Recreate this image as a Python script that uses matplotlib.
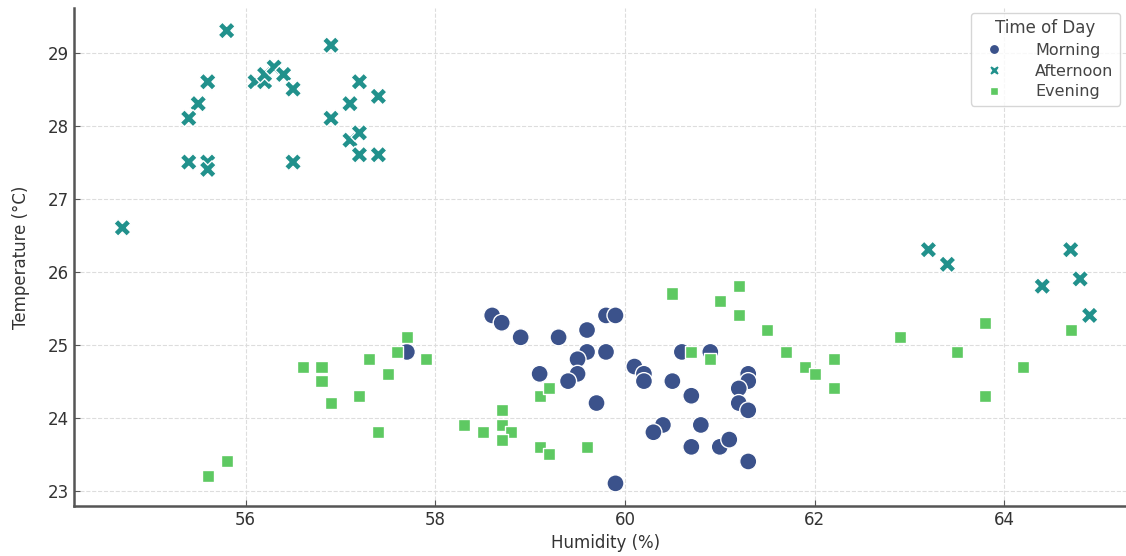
import numpy as np
import pandas as pd
import matplotlib
matplotlib.use('Agg')
import matplotlib.pyplot as plt
import seaborn as sns

# readings per time of day
morning_hum = [58.6, 58.7, 58.9, 59.3, 59.6, 59.8, 59.9, 59.6, 59.8, 59.5, 59.5, 59.4,
               59.1, 59.7, 60.1, 60.2, 60.2, 60.5, 60.7, 60.6, 60.9, 61.3, 61.3, 61.2,
               61.2, 61.3, 60.8, 60.4, 60.3, 60.7, 61.0, 61.1, 61.3, 59.9, 57.7]
morning_temp = [25.4, 25.3, 25.1, 25.1, 25.2, 25.4, 25.4, 24.9, 24.9, 24.8, 24.6, 24.5,
                24.6, 24.2, 24.7, 24.6, 24.5, 24.5, 24.3, 24.9, 24.9, 24.6, 24.5, 24.4,
                24.2, 24.1, 23.9, 23.9, 23.8, 23.6, 23.6, 23.7, 23.4, 23.1, 24.9]

afternoon_hum = [55.8, 56.9, 55.6, 55.5, 55.4, 55.4, 55.6, 55.6, 54.7, 56.1, 56.2, 56.2,
                 56.3, 56.4, 56.5, 56.5, 56.9, 57.1, 57.2, 57.4, 57.1, 57.2, 57.2, 57.4,
                 63.2, 63.4, 64.7, 64.4, 64.8, 64.9]
afternoon_temp = [29.3, 29.1, 28.6, 28.3, 28.1, 27.5, 27.5, 27.4, 26.6, 28.6, 28.6, 28.7,
                  28.8, 28.7, 28.5, 27.5, 28.1, 28.3, 28.6, 28.4, 27.8, 27.9, 27.6, 27.6,
                  26.3, 26.1, 26.3, 25.8, 25.9, 25.4]

evening_hum = [60.5, 61.2, 61.0, 61.2, 61.5, 60.7, 60.9, 61.7, 61.9, 62.0, 62.2, 62.2,
               62.9, 63.5, 63.8, 63.8, 64.2, 64.7,
               57.7, 57.6, 57.9, 57.3, 57.5, 56.6, 56.8, 56.8, 56.9, 57.2, 57.4, 58.3,
               58.5, 58.7, 58.7, 58.8, 58.7, 59.1, 59.2, 59.1, 59.2, 59.6, 55.6, 55.8]
evening_temp = [25.7, 25.8, 25.6, 25.4, 25.2, 24.9, 24.8, 24.9, 24.7, 24.6, 24.8, 24.4,
                25.1, 24.9, 25.3, 24.3, 24.7, 25.2,
                25.1, 24.9, 24.8, 24.8, 24.6, 24.7, 24.7, 24.5, 24.2, 24.3, 23.8, 23.9,
                23.8, 24.1, 23.9, 23.8, 23.7, 24.3, 24.4, 23.6, 23.5, 23.6, 23.2, 23.4]

times = ['Morning', 'Afternoon', 'Evening']

df = pd.DataFrame({
    'Humidity (%)': morning_hum + afternoon_hum + evening_hum,
    'Temperature (°C)': morning_temp + afternoon_temp + evening_temp,
    'Time of Day': ['Morning'] * len(morning_hum) + ['Afternoon'] * len(afternoon_hum)
                   + ['Evening'] * len(evening_hum),
})

plt.rcParams['font.family'] = ['DejaVu Sans']
fig = plt.figure(figsize=(11.26, 5.56), dpi=100)
# right edge of the axes runs a little past the picture, as in the reference
ax = fig.add_axes([74 / 1126, 1 - 506 / 556, (1138 - 74) / 1126, (506 - 8) / 556])

sns.scatterplot(data=df, x='Humidity (%)', y='Temperature (°C)', hue='Time of Day',
                style='Time of Day', hue_order=times, style_order=times,
                palette='viridis', s=150, ax=ax)

ax.grid(True, linestyle='--', color='#dddddd', linewidth=0.8)
ax.set_axisbelow(True)
for side in ['top', 'right']:
    ax.spines[side].set_visible(False)
for side in ['left', 'bottom']:
    ax.spines[side].set_color('#555555')
    ax.spines[side].set_linewidth(1.8)
ax.tick_params(direction='in', length=4, color='#555555', labelsize=12, labelcolor='#333333')
ax.set_xlabel('Humidity (%)', fontsize=12, color='#333333')
ax.set_ylabel('Temperature (°C)', fontsize=12, color='#333333', labelpad=13)

leg = ax.legend(title='Time of Day', loc='upper right', bbox_to_anchor=(0.983, 0.99),
                borderaxespad=0, fontsize=11.5, title_fontsize=12, frameon=True,
                markerscale=0.6, handletextpad=1.6, labelspacing=0.35)
leg.get_frame().set_edgecolor('#cccccc')
for t in leg.get_texts():
    t.set_color('#444444')
leg.get_title().set_color('#444444')

fig.savefig('out.png', dpi=100)
